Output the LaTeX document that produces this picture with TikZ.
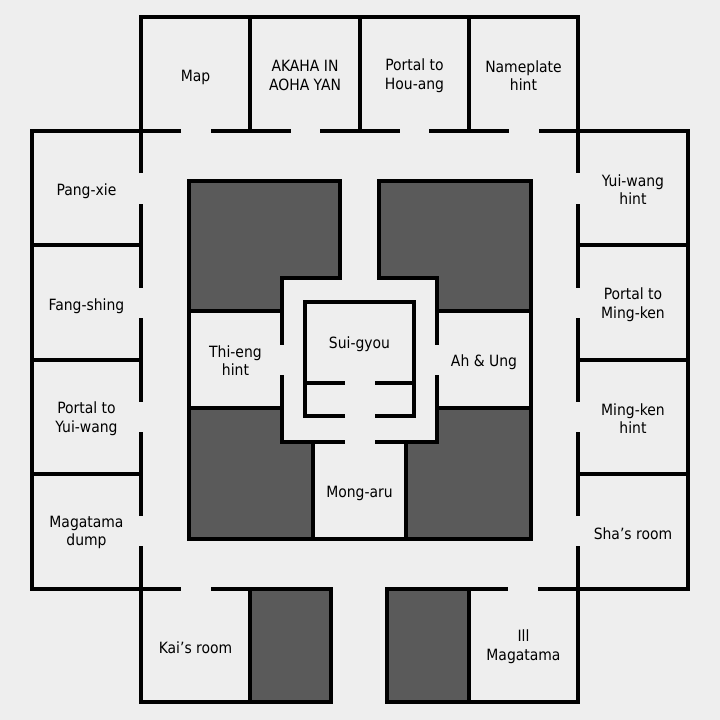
\documentclass[tikz,border=0pt]{standalone}
\usepackage{fontspec}
\usepackage{tikz}
\usepackage{xcolor}
\newfontfamily\roomface{DejaVu Sans Condensed}
\newcommand\roomtext{\roomface\fontsize{15.5}{18.6}\selectfont}
\definecolor{floorgray}{HTML}{EEEEEE}
\definecolor{blockgray}{HTML}{5A5A5A}

\begin{document}
\begin{tikzpicture}
  [x=1pt,y=-1pt,line width=4pt,
   every node/.style={align=center,inner sep=0pt,font=\roomtext},
   block/.style={fill=blockgray,draw=black}]
  \fill[floorgray] (0,0) rectangle (720,720);
  \useasboundingbox (0,0) rectangle (720,720);

  % solid blocks
  \filldraw[block] (189,181) -- (340,181) -- (340,278) -- (282,278) -- (282,311) -- (189,311) -- cycle;
  \filldraw[block] (379,181) -- (531,181) -- (531,311) -- (437,311) -- (437,278) -- (379,278) -- cycle;
  \filldraw[block] (189,408) -- (282,408) -- (282,442) -- (313,442) -- (313,539) -- (189,539) -- cycle;
  \filldraw[block] (406,442) -- (437,442) -- (437,408) -- (531,408) -- (531,539) -- (406,539) -- cycle;
  \filldraw[block] (250,589) rectangle (331,702);
  \filldraw[block] (387,589) rectangle (469,702);

  % outer rooms
  \draw (141,173) -- (141,17) -- (578,17) -- (578,173);
  \draw (181,131) -- (32,131) -- (32,589) -- (181,589);
  \draw (539,131) -- (688,131) -- (688,589) -- (538,589);
  \draw (141,546) -- (141,702) -- (250,702);
  \draw (578,546) -- (578,702) -- (469,702);
  \draw (211,589) -- (250,589);
  \draw (469,589) -- (508,589);
  \foreach \x in {250,360,469}
    \draw (\x,17) -- (\x,131);
  \foreach \xa/\xb in {211/291,320/400,429/509}
    \draw (\xa,131) -- (\xb,131);
  \foreach \y in {245,360,474}
    {\draw (32,\y) -- (141,\y);
     \draw (578,\y) -- (688,\y);}
  \foreach \ya/\yb in {204/288,318/402,432/516}
    {\draw (141,\ya) -- (141,\yb);
     \draw (578,\ya) -- (578,\yb);}

  % inner rooms
  \draw (189,311) -- (189,408);
  \draw (531,311) -- (531,408);
  \draw (282,278) -- (282,345);
  \draw (437,278) -- (437,345);
  \draw (282,375) -- (282,442) -- (345,442);
  \draw (437,375) -- (437,442) -- (375,442);
  \draw (313,539) -- (406,539);
  \draw (345,416) -- (305,416) -- (305,302) -- (414,302) -- (414,416) -- (375,416);
  \draw (305,383) -- (345,383);
  \draw (375,383) -- (414,383);

  % labels
  \node (map) at (195.5,77) {Map};
  \node (akaha) at (305,75.5) {AKAHA IN\\AOHA YAN};
  \node (houang) at (414.5,75.5) {Portal to\\Hou-ang};
  \node (nameplate) at (523.5,75.5) {Nameplate\\hint};
  \node (pangxie) at (86.5,191) {Pang-xie};
  \node (fangshing) at (86.5,306) {Fang-shing};
  \node (yuiwang) at (86.5,418.5) {Portal to\\Yui-wang};
  \node (dump) at (86.5,532.5) {Magatama\\dump};
  \node (yuihint) at (633,189.5) {Yui-wang\\hint};
  \node (mingken) at (633,304.5) {Portal to\\Ming-ken};
  \node (minghint) at (633,418.5) {Ming-ken\\hint};
  \node (sha) at (633,534) {Sha’s room};
  \node (kai) at (195.5,648) {Kai’s room};
  \node (ill) at (523.5,646.5) {Ill\\Magatama};
  \node (thieng) at (235.5,360.5) {Thi-eng\\hint};
  \node (ahung) at (484,362) {Ah \& Ung};
  \node (suigyou) at (359.5,344.5) {Sui-gyou};
  \node (mongaru) at (359.5,493) {Mong-aru};

\end{tikzpicture}
\end{document}
